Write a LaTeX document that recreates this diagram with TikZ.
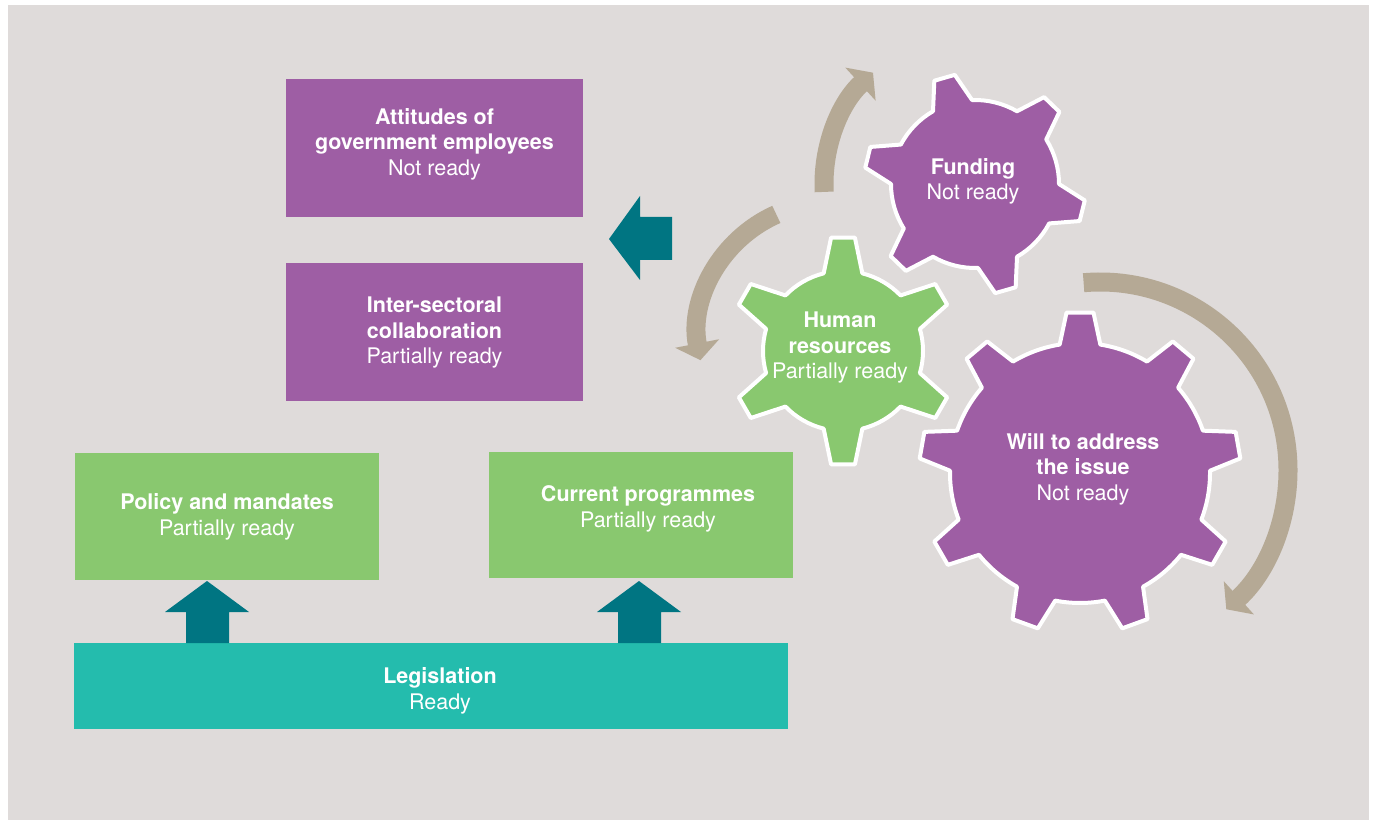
\documentclass[tikz,border=0pt]{standalone}
\usepackage{fontspec}
\setmainfont{TeX Gyre Heros}
\usetikzlibrary{arrows.meta}
\definecolor{bgc}{HTML}{DFDBDA}
\definecolor{purp}{HTML}{9E5EA4}
\definecolor{grn}{HTML}{89C86F}
\definecolor{teal1}{HTML}{24BCAD}
\definecolor{teal2}{HTML}{007582}
\definecolor{tan1}{HTML}{B5A995}
\newcommand{\drawgear}[9]{%
  \begin{scope}[shift={#2}]
  \pgfmathsetmacro\gstep{360/#3}
  \draw[gearline, fill=#9] ({#4-#7}:#5)
    \foreach \k in {1,...,#3}{
      -- ({#4+(\k-1)*\gstep-#8}:#6) -- ({#4+(\k-1)*\gstep+#8}:#6)
      -- ({#4+(\k-1)*\gstep+#7}:#5)
      arc[start angle={#4+(\k-1)*\gstep+#7}, end angle={#4+\k*\gstep-#7}, radius=#5]
    } -- cycle;
  \coordinate (#1) at (0,0);
  \end{scope}}
\begin{document}
\begin{tikzpicture}[x=1pt,y=1pt,
  txt/.style={text=white, align=center, inner sep=0pt, font=\fontsize{21.5}{25.5}\selectfont},
  pbox/.style={fill=purp, inner sep=0pt, minimum width=297, minimum height=138},
  gbox/.style={fill=grn, inner sep=0pt, minimum width=304, minimum height=126},
  lbox/.style={fill=teal1, inner sep=0pt, minimum width=714, minimum height=86},
  blockarrow/.style={fill=teal2},
  gearline/.style={draw=white, line width=4pt, line join=round},
  turn/.style={draw=tan1, line width=19pt, -{Triangle[width=44pt,length=17pt]}}]
\useasboundingbox (0,0) rectangle (1375,820);
\fill[bgc] (8,0) rectangle (1369,815);

% boxes
\node[pbox] (att) at (434.5,672) {};
\node[pbox] (inter) at (434.5,488) {};
\node[gbox] (pol) at (227,303.5) {};
\node[gbox] (cur) at (641,305) {};
\node[lbox] (leg) at (431,134) {};

\node[txt] (attT) at (434.5,676) {\textbf{Attitudes of}\\\textbf{government employees}\\Not ready};
\node[txt] (interT) at (434.5,487) {\textbf{Inter-sectoral}\\\textbf{collaboration}\\Partially ready};
\node[txt] (polT) at (227,303) {\textbf{Policy and mandates}\\Partially ready};
\node[txt] (curT) at (648,311) {\textbf{Current programmes}\\Partially ready};
\node[txt] (legT) at (440,129) {\textbf{Legislation}\\Ready};

% block arrows
\fill[blockarrow] (186,177) -- (186,208) -- (165,208) -- (207,239) -- (249,208) -- (229,208) -- (229,177) -- cycle;
\fill[blockarrow] (618,177) -- (618,208) -- (597,208) -- (639,239) -- (681,208) -- (661,208) -- (661,177) -- cycle;
\fill[blockarrow] (672,603) -- (640,603) -- (640,624) -- (609,581) -- (640,540) -- (640,560) -- (672,560) -- cycle;

% curved arrows
\draw[turn] (975,636) ++(183:151) arc[start angle=183, end angle=132.5, radius=151];
\draw[turn] (830,485) ++(114:132) arc[start angle=114, end angle=191, radius=132];
\draw[turn] (1100,350) ++(95:188) arc[start angle=95, end angle=-47.8, radius=188];

% gears
\drawgear{fund}{(975,636)}{6}{106}{84}{111}{14}{5.5}{purp}
\drawgear{will}{(1080,347)}{9}{90}{130}{161}{9}{4.8}{purp}
\drawgear{hr}{(843,469)}{6}{90}{80}{114}{14}{6}{grn}

\node[txt] (fundT) at (973,638.5) {\textbf{Funding}\\Not ready};
\node[txt] (hrT) at (840,472) {\textbf{Human}\\\textbf{resources}\\Partially ready};
\node[txt] (willT) at (1083,351) {\textbf{Will to address}\\\textbf{the issue}\\Not ready};
\end{tikzpicture}
\end{document}
